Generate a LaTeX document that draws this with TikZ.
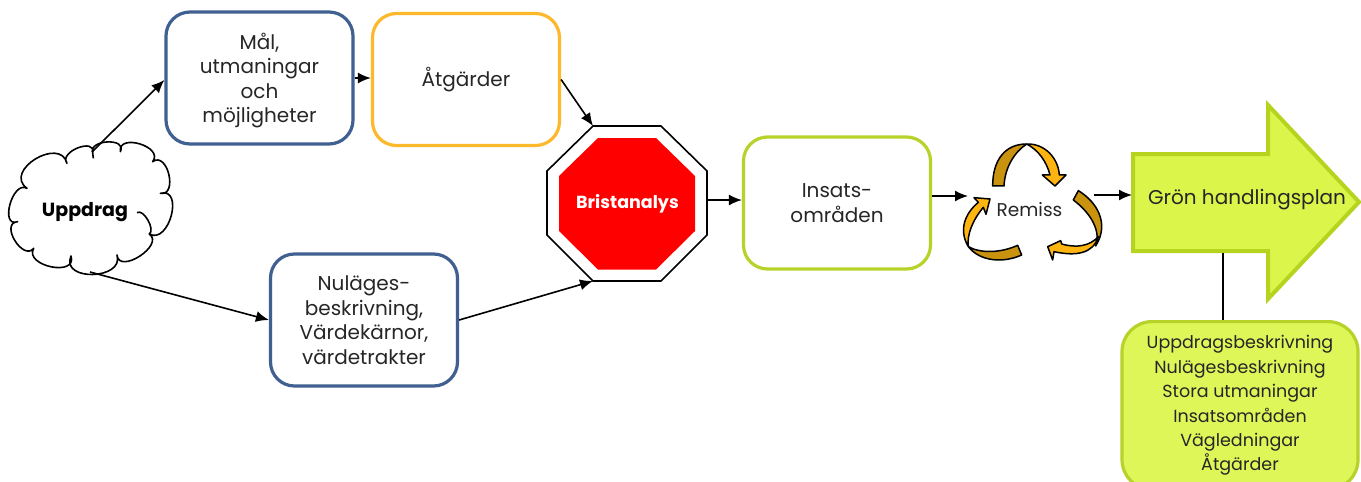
\documentclass[tikz,border=0pt]{standalone}
\usepackage{fontspec}
\setmainfont{Poppins}
\usetikzlibrary{arrows.meta}
\definecolor{bluebox}{HTML}{3F6090}
\definecolor{yellowbox}{HTML}{FDB92B}
\definecolor{limebox}{HTML}{B7D32A}
\definecolor{limefill}{HTML}{DCF54B}
\definecolor{limeedge}{HTML}{B6D41E}
\definecolor{orangefill}{HTML}{FFB511}
\definecolor{darkfill}{HTML}{C9930F}
\definecolor{txt}{HTML}{262626}
\newcommand{\lowline}[1]{\raisebox{-8pt}[0pt][0pt]{#1}}
\tikzset{
  flow/.style={draw=black,line width=1.6pt,-{Latex[length=13pt,width=11pt]}},
  plainline/.style={draw=black,line width=1.6pt},
  card/.style={rounded corners=24pt,line width=3.2pt,fill=white,minimum width=187pt,minimum height=132pt,
     align=center,text=txt,font=\fontsize{20}{24.5}\selectfont,inner sep=0pt},
  bluecard/.style={card,draw=bluebox},
  yellowcard/.style={card,draw=yellowbox},
  limecard/.style={card,draw=limebox},
  curl/.style={draw=black,line width=1.5pt,line join=round},
  lab/.style={text=txt,align=center,inner sep=0pt,font=\fontsize{20}{24.5}\selectfont},
}
\begin{document}
\begin{tikzpicture}[x=1pt,y=-1pt]
\useasboundingbox (0,0) rectangle (1361,482);
\clip (0,0) rectangle (1361,482);
\fill[white] (0,0) rectangle (1361,482);

% cloud
\begin{scope}[shift={(1,130)},x=0.3333pt,y=-0.3333pt]
\draw[black,line width=1.6pt,fill=white,line join=round]
 (275,68) .. controls (263,28) and (380,23) .. (358,65)
 .. controls (350,8) and (490,50) .. (455,95)
 .. controls (500,62) and (532,199) .. (478,190)
 .. controls (550,171) and (505,345) .. (445,312)
 .. controls (492,345) and (354,435) .. (348,375)
 .. controls (371,450) and (177,455) .. (210,378)
 .. controls (230,442) and (68,408) .. (98,355)
 .. controls (66,395) and (-5,279) .. (50,275)
 .. controls (-5,295) and (34,150) .. (78,175)
 .. controls (5,122) and (178,18) .. (198,100)
 .. controls (172,65) and (285,22) .. (275,68) -- cycle;
\draw[black,line width=1.6pt] (408,248) .. controls (427,235) and (464,299) .. (445,312);
\draw[black,line width=1.6pt] (275,68) -- (277,85);
\end{scope}
\node[inner sep=0pt,text=black,font=\fontsize{19}{20}\selectfont\bfseries] (uppdrag) at (85,212) {Uppdrag};
\coordinate (cloudtop) at (92,152);
\coordinate (cloudbot) at (90,272);

% boxes
\node[bluecard] (mal) at (259.5,78) {\lowline{Mål,}\\\lowline{utmaningar}\\\lowline{och}\\\lowline{möjligheter}};
\node[yellowcard] (atg) at (466,79.5) {Åtgärder};
\node[bluecard] (nul) at (364,320) {Nuläges-\\beskrivning,\\Värdekärnor,\\värdetrakter};
\node[limecard] (ins) at (837,203) {Insats-\\områden};

% octagon
\draw[black,line width=1.6pt,fill=white] (593,126) -- (661,126) -- (707,171) -- (707,235) -- (661,281) -- (593,281) -- (547,235) -- (547,171) -- cycle;
\fill[red] (598,138) -- (656,138) -- (695,176) -- (695,231) -- (656,269.5) -- (598,269.5) -- (559,231) -- (559,176) -- cycle;
\node[inner sep=0pt,text=white,font=\fontsize{17.5}{18}\selectfont\bfseries] (brist) at (627.5,204) {Bristanalys};
\coordinate (octNW) at (593,126);
\coordinate (octSW) at (593,281);
\coordinate (octE) at (707,200);

% remiss arrows
\begin{scope}[shift={(950,120)},x=0.3333pt,y=-0.3333pt]
\draw[curl,fill=darkfill] (128,198) .. controls (128,120) and (165,72) .. (230,72) .. controls (195,95) and (165,140) .. (162,198) -- cycle;
\draw[curl,fill=orangefill] (230,72) .. controls (285,70) and (325,115) .. (328,165) -- (348,165) -- (315,198) -- (277,165) -- (300,165) .. controls (290,125) and (265,90) .. (230,72) -- cycle;
\draw[curl,fill=darkfill] (385,212) .. controls (440,245) and (480,310) .. (437,378) .. controls (452,340) and (430,285) .. (370,240) -- cycle;
\draw[curl,fill=orangefill] (312,395) .. controls (380,410) and (430,400) .. (445,350) .. controls (420,378) and (380,385) .. (335,372) -- (332,362) -- (293,380) -- (308,420) -- cycle;
\draw[curl,fill=darkfill] (215,405) .. controls (160,430) and (90,425) .. (55,380) .. controls (90,400) and (150,400) .. (203,376) -- cycle;
\draw[curl,fill=orangefill] (55,380) .. controls (25,330) and (45,280) .. (85,247) -- (72,233) -- (120,237) -- (108,283) -- (100,262) .. controls (68,300) and (50,345) .. (55,380) -- cycle;
\end{scope}
\node[lab,font=\fontsize{18.5}{22}\selectfont] (rem) at (1029.5,210) {Remiss};
\coordinate (remin) at (968,196);
\coordinate (remout) at (1094,195);

% big arrow
\draw[limeedge,line width=4pt,fill=limefill,line join=miter] (1133,154) -- (1268,154) -- (1268,105) -- (1359,202) -- (1268,299) -- (1268,251) -- (1133,251) -- cycle;
\node[lab] (plan) at (1247,200) {Grön handlingsplan};
\coordinate (planin) at (1132,195);
\coordinate (planout) at (1223,253);

% info box
\node[limecard,fill=limefill!92!white,rounded corners=30pt,minimum width=236pt,minimum height=168pt,anchor=north,font=\fontsize{17.5}{24.4}\selectfont] (info) at (1240,320)
 {Uppdragsbeskrivning\\Nulägesbeskrivning\\Stora utmaningar\\Insatsområden\\Vägledningar\\Åtgärder};

% connectors
\draw[flow] (cloudtop) -- (mal.west|-0,80);
\draw[flow] (cloudbot) -- (nul.west);
\draw[flow] (mal.east) -- (atg.west|-mal.east);
\draw[flow] (atg.east) -- (octNW);
\draw[flow] (nul.east) -- (octSW);
\draw[flow] (octE) -- (ins.west|-octE);
\draw[flow] (ins.east|-remin) -- (remin);
\draw[flow] (remout) -- (planin);
\draw[plainline] (planout) -- (planout|-info.north);
\end{tikzpicture}
\end{document}
